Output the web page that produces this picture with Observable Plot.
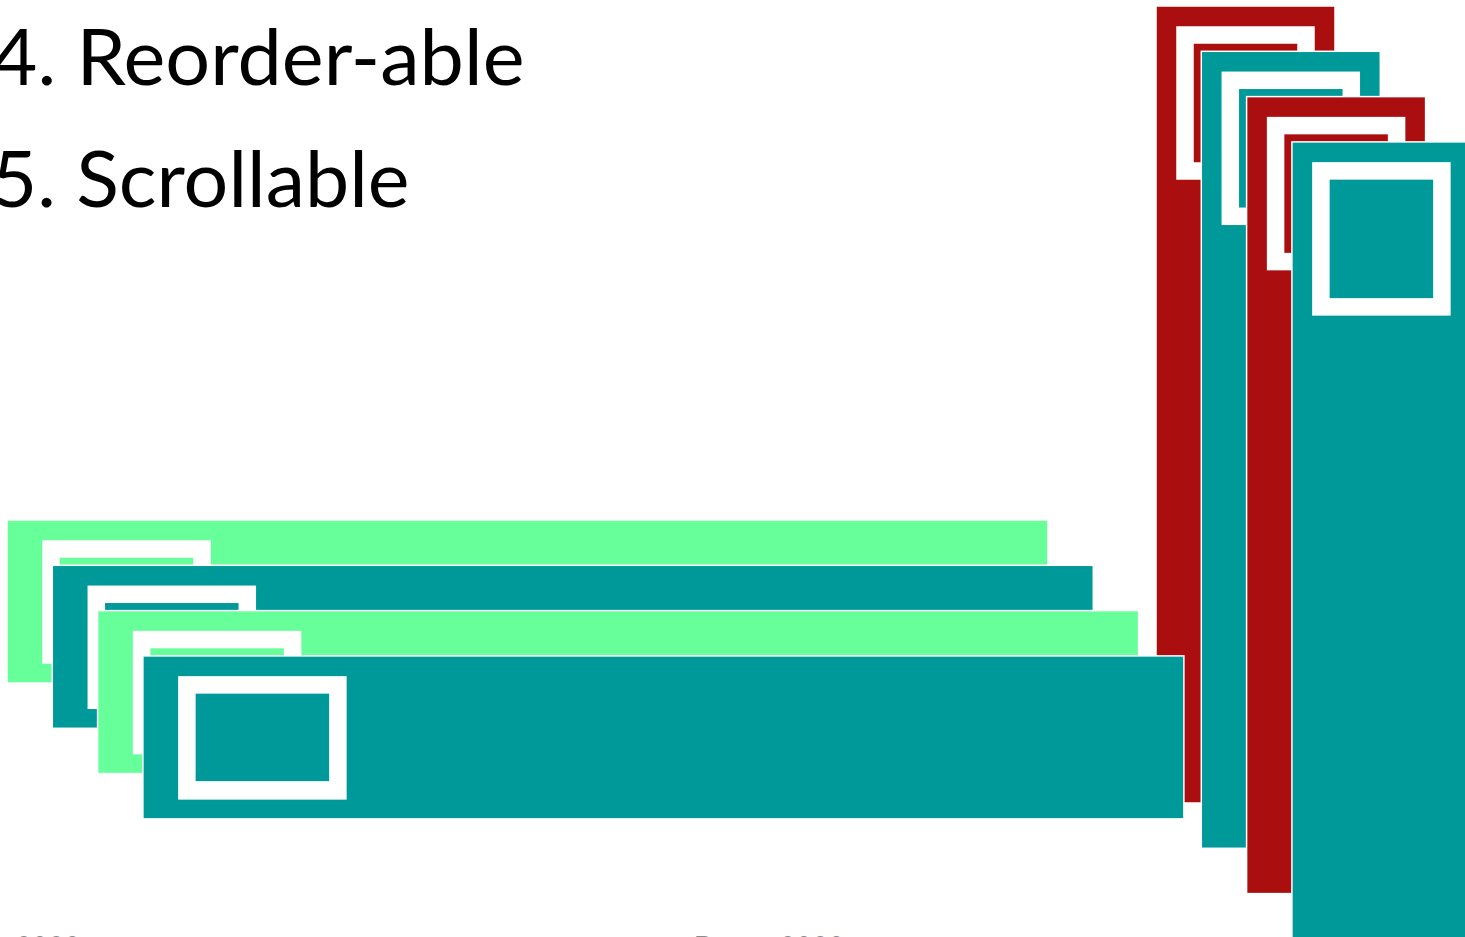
<!DOCTYPE html>
<html>
<head>
<meta charset="utf-8">
<script src="https://cdn.jsdelivr.net/npm/d3@7"></script>
<script src="https://cdn.jsdelivr.net/npm/@observablehq/plot@0.6"></script>
<style>
  html, body { margin: 0; padding: 0; background: #ffffff; overflow: hidden; }
  #chart { width: 1465px; height: 937px; overflow: hidden; }
</style>
</head>
<body>
<div id="chart"></div>
<script>
// ---- data ----
const titleLines = ["4. Reorder-able", "5. Scrollable"];
const horizontalCards = ["card 1", "card 2", "card 3", "card 4"];
const horizontalKinds = ["mint", "teal", "mint", "teal"];
const verticalCards = ["card 1", "card 2", "card 3", "card 4"];
const verticalKinds = ["crimson", "teal", "crimson", "teal"];
const tickLabels = ["Jan \u2014 2020", "Dec \u2014 2020"];

// ---- styles & layout (kept apart from the data) ----
const palette = {mint: "#66ff99", teal: "#009999", crimson: "#ab0e0e"};
const layout = {
  horizontal: {x0: 7, y0: 520, step: 45.3, w: 1041, h: 163,
    frame: {dx: 36, dy: 21, w: 167, h: 122}, inner: {dx: 52, dy: 37, w: 135, h: 89}},
  vertical: {x0: 1156, y0: 6, step: 45.3, w: 179, h: 797,
    frame: {dx: 21, dy: 21, w: 137, h: 152}, inner: {dx: 37, dy: 37, w: 105, h: 120}}
};
const titleLayout = {x: -9, baselines: [84, 206], lengths: [533, 418], size: 77};
const tickLayout = {x: [80, 844], baseline: 956, size: 28};

function buildRects(cards, kinds, L) {
  const rows = [];
  cards.forEach((name, i) => {
    const ox = L.x0 + i * L.step, oy = L.y0 + i * L.step;
    const color = palette[kinds[i]];
    rows.push({card: name, part: "outer", x1: ox, x2: ox + L.w, y1: oy, y2: oy + L.h, fill: color});
    rows.push({card: name, part: "frame", x1: ox + L.frame.dx, x2: ox + L.frame.dx + L.frame.w,
               y1: oy + L.frame.dy, y2: oy + L.frame.dy + L.frame.h, fill: "#ffffff"});
    rows.push({card: name, part: "inner", x1: ox + L.inner.dx, x2: ox + L.inner.dx + L.inner.w,
               y1: oy + L.inner.dy, y2: oy + L.inner.dy + L.inner.h, fill: color});
  });
  return rows;
}

// vertical stack sits underneath the horizontal stack
const rects = [
  ...buildRects(verticalCards, verticalKinds, layout.vertical),
  ...buildRects(horizontalCards, horizontalKinds, layout.horizontal)
];

const titles = titleLines.map((t, i) => ({text: t, x: titleLayout.x, y: titleLayout.baselines[i]}));
const ticks = tickLabels.map((t, i) => ({text: t, x: tickLayout.x[i], y: tickLayout.baseline}));

const chart = Plot.plot({
  width: 1465,
  height: 937,
  margin: 0,
  x: {domain: [0, 1465], range: [0, 1465], axis: null},
  y: {domain: [0, 937], range: [0, 937], axis: null},
  style: {background: "#ffffff", overflow: "hidden"},
  marks: [
    Plot.rect(rects, {x1: "x1", x2: "x2", y1: "y1", y2: "y2", fill: "fill",
                      stroke: "#ffffff", strokeWidth: 1.5}),
    Plot.text(titles, {x: "x", y: "y", text: "text", textAnchor: "start", lineAnchor: "bottom",
                       fontSize: titleLayout.size, fontFamily: "Lato", fill: "#000000"}),
    Plot.text(ticks, {x: "x", y: "y", text: "text", textAnchor: "end", lineAnchor: "bottom",
                      fontSize: tickLayout.size, fontFamily: "Lato", fill: "#8a8a8a"})
  ]
});
document.getElementById("chart").appendChild(chart);

// stretch the title lines to the reference's Calibri widths (text stays real text)
const textGroups = chart.querySelectorAll("g[aria-label='text']");
if (textGroups.length) {
  textGroups[0].querySelectorAll("text").forEach((el, i) => {
    el.setAttribute("textLength", titleLayout.lengths[i]);
    el.setAttribute("lengthAdjust", "spacingAndGlyphs");
  });
}
</script>
</body>
</html>
